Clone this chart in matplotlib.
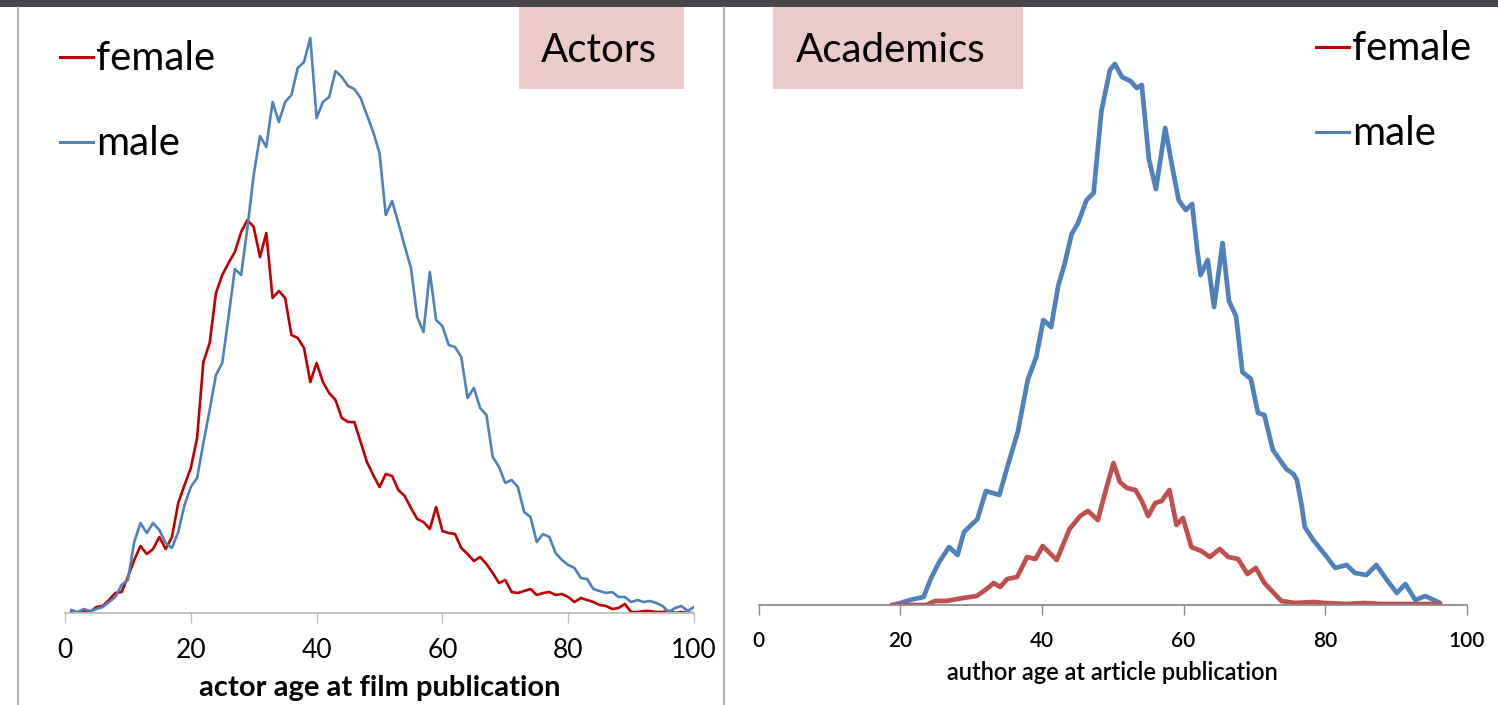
import matplotlib
matplotlib.use("Agg")
import matplotlib.pyplot as plt
from matplotlib.lines import Line2D
from matplotlib.patches import Rectangle

plt.rcParams["font.family"] = ["Lato", "DejaVu Sans"]

W, H = 1498, 705

# ---------------------------------------------------------------------------
# Data (values in arbitrary frequency units)
# ---------------------------------------------------------------------------
actor_age = list(range(1, 101))
actor_female = [
    1, 0, 2, 1, 6, 7, 13, 20, 21, 36,
    53, 67, 59, 64, 76, 64, 76, 110, 128, 145,
    175, 251, 270, 320, 338, 350, 361, 381, 393, 386,
    356, 380, 315, 322, 315, 278, 275, 265, 231, 250,
    231, 220, 213, 195, 191, 191, 171, 151, 138, 126,
    139, 137, 123, 117, 105, 94, 91, 84, 106, 82,
    80, 79, 65, 59, 52, 56, 49, 40, 30, 33,
    21, 20, 22, 24, 18, 20, 21, 18, 19, 16,
    11, 15, 13, 11, 8, 7, 4, 5, 9, 1,
    1, 2, 2, 1, 1, 2, 0, 1, 0, 0,
]
actor_male = [
    3, 1, 4, 2, 4, 6, 11, 16, 28, 33,
    71, 90, 80, 90, 83, 70, 65, 81, 108, 126,
    135, 170, 203, 238, 250, 296, 344, 338, 385, 438,
    477, 466, 511, 491, 511, 518, 545, 551, 575, 495,
    511, 516, 542, 536, 527, 524, 515, 498, 481, 460,
    398, 412, 390, 367, 345, 296, 281, 341, 293, 287,
    268, 266, 256, 215, 225, 205, 198, 156, 146, 130,
    133, 126, 101, 96, 71, 79, 76, 60, 53, 48,
    45, 35, 34, 24, 22, 20, 21, 16, 16, 11,
    13, 11, 12, 10, 7, 1, 5, 7, 2, 6,
]

acad_male_age = [
    19.0, 20.0, 21.4, 22.6, 23.3, 24.3, 25.5, 26.9, 28.1, 29.0,
    30.9, 32.1, 34.0, 35.2, 36.6, 38.0, 39.2, 40.2, 41.3, 42.3,
    43.2, 44.2, 45.1, 46.3, 47.3, 48.4, 49.6, 50.3, 51.3, 52.5,
    53.4, 54.1, 55.1, 56.1, 57.4, 58.4, 59.3, 60.3, 61.2, 61.9,
    62.4, 63.4, 64.3, 65.5, 66.4, 67.4, 68.3, 69.5, 70.5, 71.4,
    72.6, 74.5, 75.5, 76.0, 76.7, 77.1, 78.3, 80.0, 81.4, 83.0,
    84.2, 85.8, 87.2, 88.7, 90.1, 91.3, 92.7, 94.1, 96.2,
]
acad_male = [
    0, 2, 5, 7, 8, 26, 43, 58, 50, 73,
    86, 114, 110, 140, 173, 225, 248, 285, 278, 319,
    341, 371, 382, 405, 412, 494, 535, 541, 528, 524,
    517, 520, 446, 416, 477, 438, 405, 395, 401, 356,
    330, 345, 298, 362, 304, 289, 233, 226, 192, 190,
    155, 136, 131, 125, 98, 78, 65, 50, 37, 40,
    32, 30, 40, 25, 12, 21, 5, 9, 2,
]
acad_female_age = [
    18.8, 21.9, 23.7, 24.9, 26.5, 28.9, 30.8, 32.0, 33.2, 34.1,
    35.1, 36.5, 37.9, 39.1, 40.1, 42.1, 43.9, 45.4, 46.5, 47.9,
    49.1, 50.1, 51.0, 52.0, 53.2, 54.1, 55.0, 56.0, 56.9, 58.0,
    59.0, 59.9, 61.1, 62.5, 63.7, 65.1, 66.3, 67.7, 69.0, 70.2,
    71.4, 72.6, 73.8, 75.7, 78.3, 80.0, 83.0, 85.5, 87.8, 96.2,
]
acad_female = [
    0, 0, 0, 4, 4, 7, 9, 15, 22, 18,
    26, 28, 48, 46, 59, 45, 76, 89, 94, 85,
    117, 142, 123, 117, 115, 104, 89, 102, 104, 115,
    80, 87, 58, 54, 48, 56, 48, 46, 31, 37,
    22, 13, 4, 2, 3, 2, 1, 2, 1, 1,
]

x_ticks = [0, 20, 40, 60, 80, 100]

RED_DARK = "#c00000"
RED_SOFT = "#c0504d"
BLUE = "#4f81bd"


def fx(px):
    return px / W


def fy(py):
    return 1 - py / H


def add_axes_px(fig, x0, x1, ytop, ybot):
    return fig.add_axes([fx(x0), fy(ybot), (x1 - x0) / W, (ybot - ytop) / H])


def style_axis(ax, ymax, spine_color, tick_size, pad, weight):
    ax.set_xlim(0, 100)
    ax.set_ylim(0, ymax)
    for s in ("left", "top", "right"):
        ax.spines[s].set_visible(False)
    ax.spines["bottom"].set_color(spine_color)
    ax.spines["bottom"].set_linewidth(1.3)
    ax.set_yticks([])
    ax.set_xticks(x_ticks)
    ax.set_xticklabels([str(t) for t in x_ticks], fontsize=tick_size, fontweight=weight)
    ax.tick_params(axis="x", direction="out", length=7, width=1, color=spine_color,
                   pad=pad, labelcolor="black")
    ax.patch.set_alpha(0)


def legend_px(fig, x, y_base, labels_colors):
    for i, (label, color) in enumerate(labels_colors):
        yb = y_base + i * 85
        fig.add_artist(Line2D([fx(x), fx(x + 33)], [fy(yb - 13), fy(yb - 13)],
                              color=color, lw=2.2))
        fig.text(fx(x + 36), fy(yb), label, fontsize=29, va="baseline", ha="left")


def title_box(fig, x0, x1, text, tx):
    fig.add_artist(Rectangle((fx(x0), fy(89)), (x1 - x0) / W, 82 / H,
                             transform=fig.transFigure, facecolor="#ebcbca",
                             edgecolor="none"))
    fig.text(fx(tx), fy(62), text, fontsize=29, va="baseline", ha="left")


fig = plt.figure(figsize=(W / 100, H / 100), dpi=100)

# top dark strip and panel frame
fig.add_artist(Rectangle((0, fy(7)), 1, 7 / H, transform=fig.transFigure,
                         facecolor="#48464b", edgecolor="none"))
for xv in (18, 724):
    fig.add_artist(Line2D([fx(xv), fx(xv)], [0, fy(7)], color="#a0a0a0", lw=1.2))

# --- Actors ---
ax1 = add_axes_px(fig, 65, 694, 8, 613)
ax1.plot(actor_age, actor_female, color=RED_DARK, lw=1.9, solid_joinstyle="round")
ax1.plot(actor_age, actor_male, color=BLUE, lw=1.9, solid_joinstyle="round")
style_axis(ax1, 605, "#bfbfbf", 19, 11, "normal")
ax1.set_xlabel("actor age at film publication", fontsize=21, fontweight="bold", va="center")
ax1.xaxis.set_label_coords(0.5, (613 - 688) / 605)

# --- Academics ---
ax2 = add_axes_px(fig, 758.5, 1467, 8, 605)
ax2.plot(acad_male_age, acad_male, color=BLUE, lw=3.4, solid_joinstyle="round",
         solid_capstyle="round")
ax2.plot(acad_female_age, acad_female, color=RED_SOFT, lw=3.4, solid_joinstyle="round",
         solid_capstyle="round")
style_axis(ax2, 597, "#8c8c8c", 15, 12, "semibold")
ax2.set_xlabel("author age at article publication", fontsize=17, fontweight="semibold",
               va="center")
ax2.xaxis.set_label_coords(0.5, (605 - 673) / 597)

title_box(fig, 519, 684, "Actors", 541)
title_box(fig, 773, 1023, "Academics", 796)
legend_px(fig, 60, 70, [("female", RED_DARK), ("male", BLUE)])
legend_px(fig, 1316, 60, [("female", RED_DARK), ("male", BLUE)])

fig.savefig("out.png", dpi=100)
